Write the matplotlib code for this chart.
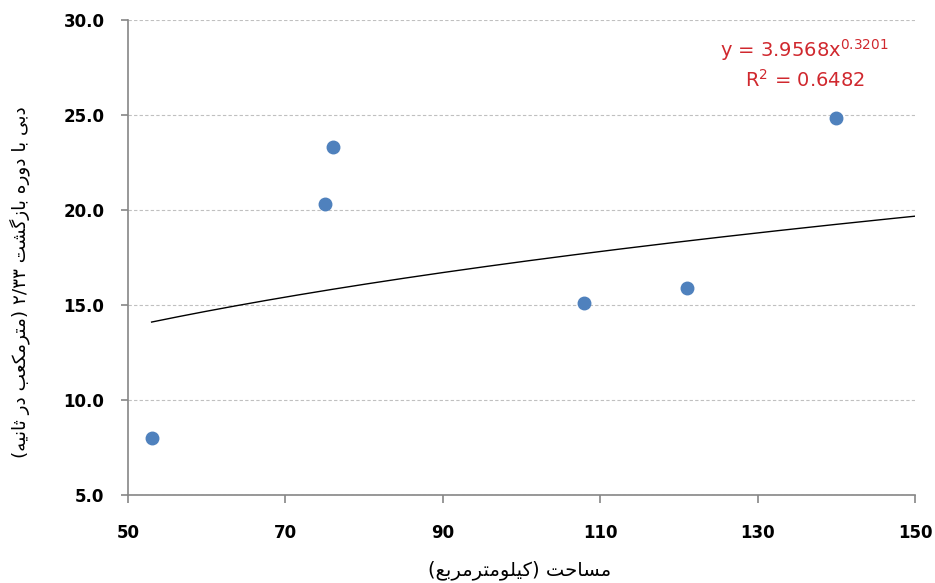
"""Scatter of discharge vs basin area with power trendline (Excel style)."""
import re

import numpy as np
import matplotlib
matplotlib.use("Agg")
import matplotlib.pyplot as plt

area_km2 = [53, 75, 76, 108, 121, 140]
discharge = [8.0, 20.3, 23.3, 15.1, 15.9, 24.85]

# power trendline shown on the chart: y = a * x^b
fit_a = 3.9568
fit_b = 0.3201
fit_r2 = 0.6482

x_ticks = [50, 70, 90, 110, 130, 150]
y_ticks = [5.0, 10.0, 15.0, 20.0, 25.0, 30.0]

x_label = "مساحت (کیلومترمربع)"
y_label = "دبی با دوره بازگشت ۲/۳۳ (مترمکعب در ثانیه)"

# minimal arabic/persian shaping: isolated, final, initial, medial
FORMS = {
    "ا": ("\uFE8D", "\uFE8E", None, None),
    "ب": ("\uFE8F", "\uFE90", "\uFE91", "\uFE92"),
    "ت": ("\uFE95", "\uFE96", "\uFE97", "\uFE98"),
    "ث": ("\uFE99", "\uFE9A", "\uFE9B", "\uFE9C"),
    "ح": ("\uFEA1", "\uFEA2", "\uFEA3", "\uFEA4"),
    "د": ("\uFEA9", "\uFEAA", None, None),
    "ر": ("\uFEAD", "\uFEAE", None, None),
    "ز": ("\uFEAF", "\uFEB0", None, None),
    "س": ("\uFEB1", "\uFEB2", "\uFEB3", "\uFEB4"),
    "ش": ("\uFEB5", "\uFEB6", "\uFEB7", "\uFEB8"),
    "ع": ("\uFEC9", "\uFECA", "\uFECB", "\uFECC"),
    "ل": ("\uFEDD", "\uFEDE", "\uFEDF", "\uFEE0"),
    "م": ("\uFEE1", "\uFEE2", "\uFEE3", "\uFEE4"),
    "ن": ("\uFEE5", "\uFEE6", "\uFEE7", "\uFEE8"),
    "ه": ("\uFEE9", "\uFEEA", "\uFEEB", "\uFEEC"),
    "و": ("\uFEED", "\uFEEE", None, None),
    "ک": ("\uFB8E", "\uFB8F", "\uFB90", "\uFB91"),
    "گ": ("\uFB92", "\uFB93", "\uFB94", "\uFB95"),
    "ی": ("\uFBFC", "\uFBFD", "\uFBFE", "\uFBFF"),
}


def _dual(c):
    return c in FORMS and FORMS[c][2] is not None


def shape_rtl(text):
    out = []
    for i, c in enumerate(text):
        if c not in FORMS:
            out.append(c)
            continue
        prev = text[i - 1] if i > 0 else ""
        nxt = text[i + 1] if i + 1 < len(text) else ""
        jp = _dual(prev)
        jn = _dual(c) and nxt in FORMS
        iso, fin, ini, med = FORMS[c]
        if jp and jn:
            out.append(med)
        elif jp:
            out.append(fin)
        elif jn:
            out.append(ini)
        else:
            out.append(iso)
    vis = "".join(out)[::-1]
    vis = vis.translate(str.maketrans("()", ")("))
    # numbers stay left-to-right
    vis = re.sub(r"[۰-۹0-9][۰-۹0-9/.]*", lambda m: m.group(0)[::-1], vis)
    return vis


plt.rcParams["font.family"] = ["DejaVu Sans"]

fig = plt.figure(figsize=(9.35, 5.83), dpi=100)
ax = fig.add_axes([128 / 935, 88 / 583, 787 / 935, 475 / 583])

ax.set_xlim(50, 150)
ax.set_ylim(5, 30)
ax.set_xticks(x_ticks)
ax.set_yticks(y_ticks)
ax.set_xticklabels([str(t) for t in x_ticks], fontweight="bold", fontsize=12)
ax.set_yticklabels([f"{t:.1f}" for t in y_ticks], fontweight="bold", fontsize=12)

ax.grid(axis="y", color="#c0c0c0", linestyle=(0, (3, 2)), linewidth=0.8)
ax.set_axisbelow(True)
for side in ("top", "right"):
    ax.spines[side].set_visible(False)
for side in ("left", "bottom"):
    ax.spines[side].set_color("#868686")
    ax.spines[side].set_linewidth(1.2)
ax.tick_params(direction="out", width=1.2, color="#868686")
ax.tick_params(axis="x", length=6, pad=15)
ax.tick_params(axis="y", length=5, pad=12)

xs = np.linspace(min(area_km2), 150, 200)
ax.plot(xs, fit_a * xs ** fit_b, color="black", linewidth=1.0, zorder=2)

ax.plot(area_km2, discharge, linestyle="none", marker="o", markersize=9,
        markerfacecolor="#4F81BD", markeredgecolor="#4F81BD", zorder=3)

ax.text(0.86, 0.937, f"y = {fit_a}x$^{{{fit_b}}}$", transform=ax.transAxes,
        ha="center", va="center", color="#D0282E", fontsize=14)
ax.text(0.86, 0.874, f"R$^2$ = {fit_r2}", transform=ax.transAxes,
        ha="center", va="center", color="#D0282E", fontsize=14)

fig.text(520 / 935, 1 - 570 / 583, shape_rtl(x_label), ha="center", va="center",
         fontsize=14)
fig.text(20 / 935, 1 - 282 / 583, shape_rtl(y_label), ha="center", va="center",
         rotation=90, fontsize=13.3)

fig.savefig("out.png", dpi=100)
